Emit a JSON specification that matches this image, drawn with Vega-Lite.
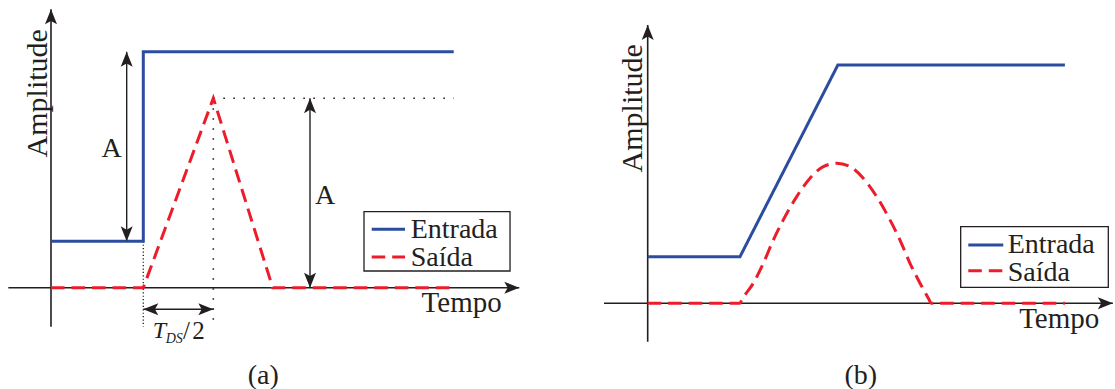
{
  "$schema": "https://vega.github.io/schema/vega-lite/v6.json",
  "background": "white",
  "padding": 0,
  "spacing": 0,
  "bounds": "flush",
  "config": {
    "view": {"stroke": null},
    "text": {"font": "Liberation Serif, DejaVu Serif, serif", "color": "#231f20"}
  },
  "datasets": {
    "sinais": [
      {"painel": "a", "serie": "Entrada", "ordem": 1, "t": 0, "amp": 0.245},
      {"painel": "a", "serie": "Entrada", "ordem": 2, "t": 2, "amp": 0.245},
      {"painel": "a", "serie": "Entrada", "ordem": 3, "t": 2, "amp": 1.245},
      {"painel": "a", "serie": "Entrada", "ordem": 4, "t": 8.726, "amp": 1.245},
      {"painel": "a", "serie": "Saída", "ordem": 1, "t": 0, "amp": 0},
      {"painel": "a", "serie": "Saída", "ordem": 2, "t": 2, "amp": 0},
      {"painel": "a", "serie": "Saída", "ordem": 3, "t": 3.517, "amp": 1.0},
      {"painel": "a", "serie": "Saída", "ordem": 4, "t": 4.804, "amp": 0},
      {"painel": "a", "serie": "Saída", "ordem": 5, "t": 8.726, "amp": 0},
      {"painel": "b", "serie": "Entrada", "ordem": 1, "t": 0, "amp": 0.246},
      {"painel": "b", "serie": "Entrada", "ordem": 2, "t": 2, "amp": 0.246},
      {"painel": "b", "serie": "Entrada", "ordem": 3, "t": 4.12, "amp": 1.257},
      {"painel": "b", "serie": "Entrada", "ordem": 4, "t": 9.04, "amp": 1.257},
      {"painel": "b", "serie": "Saída", "ordem": 1, "t": 0, "amp": 0},
      {"painel": "b", "serie": "Saída", "ordem": 2, "t": 2.0, "amp": 0},
      {"painel": "b", "serie": "Saída", "ordem": 3, "t": 2.037, "amp": 0.017},
      {"painel": "b", "serie": "Saída", "ordem": 4, "t": 2.288, "amp": 0.106},
      {"painel": "b", "serie": "Saída", "ordem": 5, "t": 2.505, "amp": 0.211},
      {"painel": "b", "serie": "Saída", "ordem": 6, "t": 2.722, "amp": 0.334},
      {"painel": "b", "serie": "Saída", "ordem": 7, "t": 2.938, "amp": 0.44},
      {"painel": "b", "serie": "Saída", "ordem": 8, "t": 3.229, "amp": 0.563},
      {"painel": "b", "serie": "Saída", "ordem": 9, "t": 3.517, "amp": 0.66},
      {"painel": "b", "serie": "Saída", "ordem": 10, "t": 3.805, "amp": 0.721},
      {"painel": "b", "serie": "Saída", "ordem": 11, "t": 4.095, "amp": 0.739},
      {"painel": "b", "serie": "Saída", "ordem": 12, "t": 4.384, "amp": 0.721},
      {"painel": "b", "serie": "Saída", "ordem": 13, "t": 4.672, "amp": 0.66},
      {"painel": "b", "serie": "Saída", "ordem": 14, "t": 4.962, "amp": 0.563},
      {"painel": "b", "serie": "Saída", "ordem": 15, "t": 5.25, "amp": 0.44},
      {"painel": "b", "serie": "Saída", "ordem": 16, "t": 5.467, "amp": 0.334},
      {"painel": "b", "serie": "Saída", "ordem": 17, "t": 5.684, "amp": 0.211},
      {"painel": "b", "serie": "Saída", "ordem": 18, "t": 5.901, "amp": 0.106},
      {"painel": "b", "serie": "Saída", "ordem": 19, "t": 6.102, "amp": 0.017},
      {"painel": "b", "serie": "Saída", "ordem": 20, "t": 6.14, "amp": 0},
      {"painel": "b", "serie": "Saída", "ordem": 21, "t": 9.04, "amp": 0}
    ],
    "eixos": [
      {"painel": "a", "t": -0.925, "amp": 0, "t2": 10.147, "amp2": 0},
      {"painel": "a", "t": 0, "amp": -0.206, "t2": 0, "amp2": 1.469},
      {"painel": "b", "t": -0.947, "amp": 0, "t2": 10.08, "amp2": 0},
      {"painel": "b", "t": 0, "amp": -0.2026, "t2": 0, "amp2": 1.4686}
    ],
    "guias": [
      {"painel": "a", "traco": "esparso", "t": 3.517, "amp": 1.0, "t2": 8.726, "amp2": 1.0},
      {"painel": "a", "traco": "esparso", "t": 3.517, "amp": 1.0, "t2": 3.517, "amp2": -0.206},
      {"painel": "a", "traco": "denso", "t": 2, "amp": 0.245, "t2": 2, "amp2": -0.206}
    ],
    "cotas": [
      {"painel": "a", "t": 1.64, "amp": 0.245, "t2": 1.64, "amp2": 1.245},
      {"painel": "a", "t": 5.612, "amp": 0, "t2": 5.612, "amp2": 1.0},
      {"painel": "a", "t": 2, "amp": -0.114, "t2": 3.517, "amp2": -0.114}
    ],
    "setas": [
      {"painel": "a", "t": 10.147, "amp": 0, "dir": "direita"},
      {"painel": "a", "t": 0, "amp": 1.469, "dir": "cima"},
      {"painel": "a", "t": 1.64, "amp": 1.245, "dir": "cima"},
      {"painel": "a", "t": 1.64, "amp": 0.245, "dir": "baixo"},
      {"painel": "a", "t": 5.612, "amp": 1.0, "dir": "cima"},
      {"painel": "a", "t": 5.612, "amp": 0, "dir": "baixo"},
      {"painel": "a", "t": 2, "amp": -0.114, "dir": "esquerda"},
      {"painel": "a", "t": 3.517, "amp": -0.114, "dir": "direita"},
      {"painel": "b", "t": 10.08, "amp": 0, "dir": "direita"},
      {"painel": "b", "t": 0, "amp": 1.4686, "dir": "cima"}
    ],
    "caixas": [
      {"painel": "a", "t": 6.782, "amp": 0.401, "t2": 9.946, "amp2": 0.0881},
      {"painel": "b", "t": 6.782, "amp": 0.4042, "t2": 9.981, "amp2": 0.0844}
    ],
    "amostras": [
      {"painel": "a", "serie": "Entrada", "t": 6.949, "t2": 7.671, "amp": 0.308},
      {"painel": "a", "serie": "Saída", "t": 6.949, "t2": 7.671, "amp": 0.162},
      {"painel": "b", "serie": "Entrada", "t": 6.947, "t2": 7.705, "amp": 0.3077},
      {"painel": "b", "serie": "Saída", "t": 6.947, "t2": 7.705, "amp": 0.172}
    ],
    "textos": [
      {"painel": "a", "grupo": "centro", "t": 1.315, "amp": 0.691, "rotulo": "A"},
      {"painel": "a", "grupo": "centro", "t": 5.937, "amp": 0.4417, "rotulo": "A"},
      {"painel": "a", "grupo": "centro", "t": 4.6, "amp": -0.508, "rotulo": "(a)"},
      {"painel": "b", "grupo": "centro", "t": 4.618, "amp": -0.426, "rotulo": "(b)"},
      {"painel": "a", "grupo": "tempo", "t": 9.766, "amp": -0.128, "rotulo": "Tempo"},
      {"painel": "b", "grupo": "tempo", "t": 9.786, "amp": -0.132, "rotulo": "Tempo"},
      {"painel": "a", "grupo": "amplitude", "t": -0.093, "amp": 1.026, "rotulo": "Amplitude"},
      {"painel": "b", "grupo": "amplitude", "t": -0.13, "amp": 1.029, "rotulo": "Amplitude"},
      {"painel": "a", "grupo": "legenda", "t": 7.794, "amp": 0.2633, "rotulo": "Entrada"},
      {"painel": "a", "grupo": "legenda", "t": 7.794, "amp": 0.1156, "rotulo": "Saída"},
      {"painel": "b", "grupo": "legenda", "t": 7.801, "amp": 0.267, "rotulo": "Entrada"},
      {"painel": "b", "grupo": "legenda", "t": 7.801, "amp": 0.119, "rotulo": "Saída"},
      {"painel": "a", "grupo": "italico", "t": 2.204, "amp": -0.267, "rotulo": "T"},
      {"painel": "a", "grupo": "subscrito", "t": 2.485, "amp": -0.29, "rotulo": "DS"},
      {"painel": "a", "grupo": "fracao", "t": 2.86, "amp": -0.272, "rotulo": "/"},
      {"painel": "a", "grupo": "fracao", "t": 3.06, "amp": -0.272, "rotulo": "2"}
    ]
  },
  "hconcat": [
    {
      "width": 557,
      "height": 389,
      "encoding": {
        "x": {"field": "t", "type": "quantitative", "scale": {"domain": [-1.1051, 10.964], "nice": false, "zero": false}, "axis": null},
        "y": {"field": "amp", "type": "quantitative", "scale": {"domain": [-0.5346, 1.5182], "nice": false, "zero": false}, "axis": null}
      },
      "layer": [
        {
          "data": {"name": "eixos"},
          "transform": [{"filter": "datum.painel === 'a'"}],
          "mark": {"type": "rule", "color": "#231f20", "strokeWidth": 1.6},
          "encoding": {"x2": {"field": "t2"}, "y2": {"field": "amp2"}}
        },
        {
          "data": {"name": "guias"},
          "transform": [{"filter": "datum.painel === 'a' && datum.traco === 'esparso'"}],
          "mark": {"type": "rule", "color": "#231f20", "strokeWidth": 1.6, "strokeDash": [1.6, 8.4]},
          "encoding": {"x2": {"field": "t2"}, "y2": {"field": "amp2"}}
        },
        {
          "data": {"name": "guias"},
          "transform": [{"filter": "datum.painel === 'a' && datum.traco === 'denso'"}],
          "mark": {"type": "rule", "color": "#231f20", "strokeWidth": 1.3, "strokeDash": [1.2, 2.2]},
          "encoding": {"x2": {"field": "t2"}, "y2": {"field": "amp2"}}
        },
        {
          "data": {"name": "cotas"},
          "transform": [{"filter": "datum.painel === 'a'"}],
          "mark": {"type": "rule", "color": "#231f20", "strokeWidth": 1.4},
          "encoding": {"x2": {"field": "t2"}, "y2": {"field": "amp2"}}
        },
        {
          "data": {"name": "sinais"},
          "transform": [{"filter": "datum.painel === 'a'"}],
          "mark": {"type": "line", "strokeWidth": 3},
          "encoding": {
            "color": {"field": "serie", "type": "nominal", "scale": {"domain": ["Entrada", "Saída"], "range": ["#2b4c9f", "#ec1c2a"]}, "legend": null},
            "strokeDash": {"field": "serie", "type": "nominal", "scale": {"domain": ["Entrada", "Saída"], "range": [[1, 0], [13.5, 7]]}, "legend": null},
            "order": {"field": "ordem", "type": "quantitative"}
          }
        },
        {
          "data": {"name": "setas"},
          "transform": [{"filter": "datum.painel === 'a'"}],
          "mark": {"type": "point", "filled": true, "opacity": 1, "color": "#231f20", "size": 225, "strokeWidth": 0},
          "encoding": {
            "shape": {"field": "dir", "type": "nominal", "legend": null, "scale": {"domain": ["cima", "direita", "baixo", "esquerda"], "range": ["M0,0L-0.8,2L0,1.55L0.8,2Z", "M0,0L-2,-0.8L-1.55,0L-2,0.8Z", "M0,0L-0.8,-2L0,-1.55L0.8,-2Z", "M0,0L2,-0.8L1.55,0L2,0.8Z"]}}
          }
        },
        {
          "data": {"name": "caixas"},
          "transform": [{"filter": "datum.painel === 'a'"}],
          "mark": {"type": "rect", "fill": "white", "stroke": "#231f20", "strokeWidth": 1.3},
          "encoding": {"x2": {"field": "t2"}, "y2": {"field": "amp2"}}
        },
        {
          "data": {"name": "amostras"},
          "transform": [{"filter": "datum.painel === 'a'"}],
          "mark": {"type": "rule", "strokeWidth": 3},
          "encoding": {
            "x2": {"field": "t2"},
            "color": {"field": "serie", "type": "nominal", "legend": null},
            "strokeDash": {"field": "serie", "type": "nominal", "legend": null}
          }
        },
        {
          "data": {"name": "textos"},
          "transform": [{"filter": "datum.painel === 'a' && datum.grupo === 'centro'"}],
          "mark": {"type": "text", "font": "Liberation Serif, DejaVu Serif, serif", "fontSize": 28, "align": "center", "baseline": "alphabetic"},
          "encoding": {"text": {"field": "rotulo"}}
        },
        {
          "data": {"name": "textos"},
          "transform": [{"filter": "datum.painel === 'a' && datum.grupo === 'tempo'"}],
          "mark": {"type": "text", "font": "Liberation Serif, DejaVu Serif, serif", "fontSize": 29, "align": "right", "baseline": "alphabetic"},
          "encoding": {"text": {"field": "rotulo"}}
        },
        {
          "data": {"name": "textos"},
          "transform": [{"filter": "datum.painel === 'a' && datum.grupo === 'amplitude'"}],
          "mark": {"type": "text", "font": "Liberation Serif, DejaVu Serif, serif", "fontSize": 30, "align": "center", "baseline": "alphabetic", "angle": 270},
          "encoding": {"text": {"field": "rotulo"}}
        },
        {
          "data": {"name": "textos"},
          "transform": [{"filter": "datum.painel === 'a' && datum.grupo === 'legenda'"}],
          "mark": {"type": "text", "font": "Liberation Serif, DejaVu Serif, serif", "fontSize": 28, "align": "left", "baseline": "alphabetic"},
          "encoding": {"text": {"field": "rotulo"}}
        },
        {
          "data": {"name": "textos"},
          "transform": [{"filter": "datum.painel === 'a' && datum.grupo === 'italico'"}],
          "mark": {"type": "text", "font": "Liberation Serif, DejaVu Serif, serif", "fontSize": 24, "fontStyle": "italic", "align": "left", "baseline": "alphabetic"},
          "encoding": {"text": {"field": "rotulo"}}
        },
        {
          "data": {"name": "textos"},
          "transform": [{"filter": "datum.painel === 'a' && datum.grupo === 'subscrito'"}],
          "mark": {"type": "text", "font": "Liberation Serif, DejaVu Serif, serif", "fontSize": 14, "fontStyle": "italic", "align": "left", "baseline": "alphabetic"},
          "encoding": {"text": {"field": "rotulo"}}
        },
        {
          "data": {"name": "textos"},
          "transform": [{"filter": "datum.painel === 'a' && datum.grupo === 'fracao'"}],
          "mark": {"type": "text", "font": "Liberation Serif, DejaVu Serif, serif", "fontSize": 25, "align": "left", "baseline": "alphabetic"},
          "encoding": {"text": {"field": "rotulo"}}
        }
      ]
    },
    {
      "width": 558,
      "height": 389,
      "encoding": {
        "x": {"field": "t", "type": "quantitative", "scale": {"domain": [-1.9653, 10.126], "nice": false, "zero": false}, "axis": null},
        "y": {"field": "amp", "type": "quantitative", "scale": {"domain": [-0.4522, 1.6005], "nice": false, "zero": false}, "axis": null}
      },
      "layer": [
        {
          "data": {"name": "eixos"},
          "transform": [{"filter": "datum.painel === 'b'"}],
          "mark": {"type": "rule", "color": "#231f20", "strokeWidth": 1.6},
          "encoding": {"x2": {"field": "t2"}, "y2": {"field": "amp2"}}
        },
        {
          "data": {"name": "sinais"},
          "transform": [{"filter": "datum.painel === 'b' && datum.serie === 'Entrada'"}],
          "mark": {"type": "line", "strokeWidth": 3},
          "encoding": {
            "color": {"field": "serie", "type": "nominal", "scale": {"domain": ["Entrada", "Saída"], "range": ["#2b4c9f", "#ec1c2a"]}, "legend": null},
            "strokeDash": {"field": "serie", "type": "nominal", "scale": {"domain": ["Entrada", "Saída"], "range": [[1, 0], [13.5, 7]]}, "legend": null},
            "order": {"field": "ordem", "type": "quantitative"}
          }
        },
        {
          "data": {"name": "sinais"},
          "transform": [{"filter": "datum.painel === 'b' && datum.serie === 'Saída'"}],
          "mark": {"type": "line", "strokeWidth": 3, "interpolate": "monotone"},
          "encoding": {
            "color": {"field": "serie", "type": "nominal", "legend": null},
            "strokeDash": {"field": "serie", "type": "nominal", "legend": null},
            "order": {"field": "ordem", "type": "quantitative"}
          }
        },
        {
          "data": {"name": "setas"},
          "transform": [{"filter": "datum.painel === 'b'"}],
          "mark": {"type": "point", "filled": true, "opacity": 1, "color": "#231f20", "size": 225, "strokeWidth": 0},
          "encoding": {
            "shape": {"field": "dir", "type": "nominal", "legend": null, "scale": {"domain": ["cima", "direita", "baixo", "esquerda"], "range": ["M0,0L-0.8,2L0,1.55L0.8,2Z", "M0,0L-2,-0.8L-1.55,0L-2,0.8Z", "M0,0L-0.8,-2L0,-1.55L0.8,-2Z", "M0,0L2,-0.8L1.55,0L2,0.8Z"]}}
          }
        },
        {
          "data": {"name": "caixas"},
          "transform": [{"filter": "datum.painel === 'b'"}],
          "mark": {"type": "rect", "fill": "white", "stroke": "#231f20", "strokeWidth": 1.3},
          "encoding": {"x2": {"field": "t2"}, "y2": {"field": "amp2"}}
        },
        {
          "data": {"name": "amostras"},
          "transform": [{"filter": "datum.painel === 'b'"}],
          "mark": {"type": "rule", "strokeWidth": 3},
          "encoding": {
            "x2": {"field": "t2"},
            "color": {"field": "serie", "type": "nominal", "legend": null},
            "strokeDash": {"field": "serie", "type": "nominal", "legend": null}
          }
        },
        {
          "data": {"name": "textos"},
          "transform": [{"filter": "datum.painel === 'b' && datum.grupo === 'centro'"}],
          "mark": {"type": "text", "font": "Liberation Serif, DejaVu Serif, serif", "fontSize": 28, "align": "center", "baseline": "alphabetic"},
          "encoding": {"text": {"field": "rotulo"}}
        },
        {
          "data": {"name": "textos"},
          "transform": [{"filter": "datum.painel === 'b' && datum.grupo === 'tempo'"}],
          "mark": {"type": "text", "font": "Liberation Serif, DejaVu Serif, serif", "fontSize": 29, "align": "right", "baseline": "alphabetic"},
          "encoding": {"text": {"field": "rotulo"}}
        },
        {
          "data": {"name": "textos"},
          "transform": [{"filter": "datum.painel === 'b' && datum.grupo === 'amplitude'"}],
          "mark": {"type": "text", "font": "Liberation Serif, DejaVu Serif, serif", "fontSize": 30, "align": "center", "baseline": "alphabetic", "angle": 270},
          "encoding": {"text": {"field": "rotulo"}}
        },
        {
          "data": {"name": "textos"},
          "transform": [{"filter": "datum.painel === 'b' && datum.grupo === 'legenda'"}],
          "mark": {"type": "text", "font": "Liberation Serif, DejaVu Serif, serif", "fontSize": 28, "align": "left", "baseline": "alphabetic"},
          "encoding": {"text": {"field": "rotulo"}}
        }
      ]
    }
  ]
}
